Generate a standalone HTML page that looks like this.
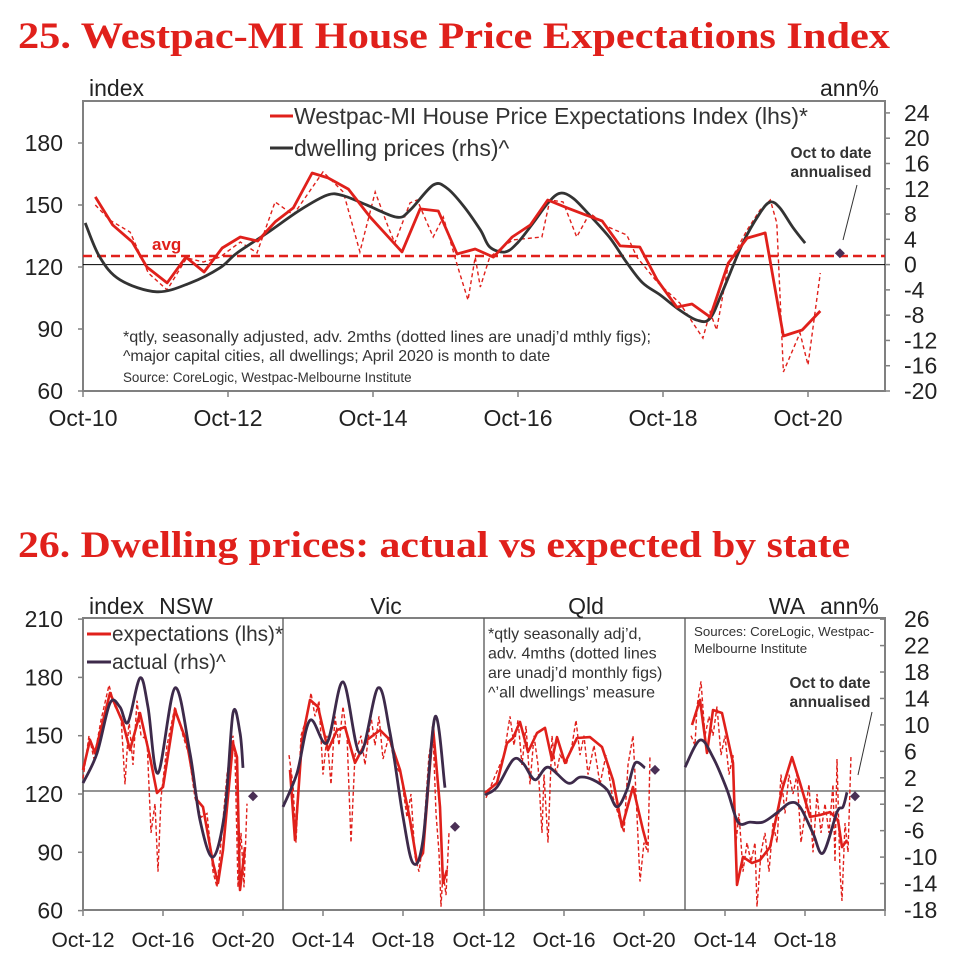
<!DOCTYPE html>
<html><head><meta charset="utf-8"><style>
html,body{margin:0;padding:0;background:#fff;}
svg{display:block;font-family:"Liberation Sans",sans-serif;}
</style></head><body>
<svg id="s" width="957" height="964" viewBox="0 0 957 964" xmlns="http://www.w3.org/2000/svg">
<text x="18" y="48" font-family="Liberation Serif,serif" font-weight="bold" font-size="37" fill="#e0201b" textLength="872" lengthAdjust="spacingAndGlyphs">25. Westpac-MI House Price Expectations Index</text>
<text x="18" y="557" font-family="Liberation Serif,serif" font-weight="bold" font-size="37" fill="#e0201b" textLength="832" lengthAdjust="spacingAndGlyphs">26. Dwelling prices: actual vs expected by state</text>
<g id="c1"></g>
<g id="c2"></g>
</svg>
<script>
// ===== Chart 25 data =====
const c1RedT=[0.17,0.41,0.68,0.88,1.16,1.42,1.67,1.92,2.17,2.41,2.65,2.90,3.16,3.38,3.66,3.96,4.40,4.65,4.90,5.16,5.41,5.66,5.92,6.17,6.41,6.68,6.90,7.16,7.41,7.68,7.92,8.19,8.40,8.65,8.90,9.16,9.41,9.66,9.92,10.17];
const c1RedV=[153.9,140.3,132.1,120,112.3,124.8,117.6,129.2,134.5,132.6,141.8,148.6,165.5,163.1,157.7,144.2,127.3,148.1,147.1,126.3,128.7,124.8,134.5,140.3,152.4,148.6,145.6,142.3,130.2,129.7,113.7,100.6,102.1,95.8,121.9,134.0,136.5,86.6,89.5,98.7];
const c1DotT=[0.17,0.37,0.65,0.90,1.16,1.43,1.66,1.89,2.17,2.40,2.65,2.90,3.31,3.59,3.82,4.03,4.21,4.30,4.51,4.61,4.83,4.97,5.17,5.31,5.41,5.48,5.61,5.79,5.93,6.33,6.44,6.62,6.81,6.99,7.24,7.50,7.64,7.92,8.23,8.55,8.65,8.74,8.90,9.16,9.34,9.48,9.57,9.66,9.89,10.00,10.17];
const c1DotV=[150.0,142.7,136.9,117.1,108.9,124.4,122.4,124.8,132.1,126.8,151.5,145.2,166.0,156.3,127.3,156.3,139.4,131.6,151.0,152.4,134.5,144.2,120.0,104.0,124.8,110.3,124.8,129.7,133.1,134.5,152.4,151.5,134.5,146.1,139.4,135.5,124.8,112.7,102.6,85.6,98.2,89.5,121.0,137.9,147.6,152.4,141.3,69.2,88.1,72.6,117.1];
const c1BlkT=[0.03,0.23,0.51,1.02,1.48,1.89,2.12,2.54,2.99,3.37,3.59,3.92,4.33,4.51,4.83,5.02,5.24,5.48,5.61,5.82,5.99,6.21,6.41,6.58,6.76,6.99,7.27,7.50,7.72,7.96,8.23,8.47,8.65,8.83,9.10,9.34,9.48,9.61,9.79,9.96];
const c1BlkV=[6.6,1.2,-2.4,-4.3,-2.9,-0.5,1.8,5.0,8.6,11.0,10.9,9.4,7.5,8.6,12.6,12.1,9.4,5.5,2.8,2.0,3.4,6.6,9.7,11.3,10.5,7.8,4.2,0.3,-2.9,-4.8,-7.2,-8.8,-8.5,-4.0,3.4,8.2,9.9,9.0,5.9,3.4];
const c1Diamond=[10.44,1.8];
const c1Avg=125.3;
const c1LeftTicks=[60,90,120,150,180];
const c1RightTicks=[-20,-16,-12,-8,-4,0,4,8,12,16,20,24];
const c1XLabels=["Oct-10","Oct-12","Oct-14","Oct-16","Oct-18","Oct-20"];

// ===== Chart 26 data =====
const panelNames=["NSW","Vic","Qld","WA"];
const nswRedT=[0,0.35,0.6,1.35,2.0,2.35,2.85,3.35,3.7,4.0,4.6,5.2,5.7,6.0,6.5,6.75,7.0,7.5,7.7,7.85,8.1];
const nswRedV=[132.4,147.8,141.1,172.0,156.5,142.6,161.7,139.0,120.5,123.6,163.2,146.2,116.9,113.3,84.5,74.2,91.2,146.2,139.0,70.6,92.7];
const nswDotT=[0,0.3,0.55,0.9,1.3,1.6,1.9,2.1,2.3,2.5,2.7,2.9,3.2,3.4,3.6,3.75,3.9,4.2,4.6,5.0,5.3,5.6,5.9,6.2,6.5,6.7,6.9,7.2,7.5,7.6,7.75,7.9,8.05,8.2];
const nswDotV=[128,150,138,158,176,165,160,125,158,135,168,150,148,100,115,80,118,145,165,150,140,118,108,110,80,72,95,130,150,140,72,100,72,115];
const nswActT=[0,0.7,1.35,1.85,2.25,2.85,3.25,3.75,4.6,5.35,5.85,6.5,7.1,7.5,7.85,8.0];
const nswActV=[1.2,5.7,13.3,12.7,10.4,17.1,12.7,2.7,15.6,5.7,-4.4,-10.0,-2.9,11.8,8.8,3.5];
const vicRedT=[0.35,0.6,0.95,1.35,1.75,2.25,2.7,3.1,3.6,4.2,4.85,5.35,5.85,6.35,6.7,7.0,7.5,7.85,8.0,8.2];
const vicRedV=[132.4,96.3,147.8,168.4,164.8,142.6,152.9,154.5,136.0,147.8,152.9,147.8,132.4,106.6,84.5,89.6,154.5,113.3,74.2,80.9];
const vicDotT=[0.3,0.5,0.65,0.9,1.2,1.4,1.6,1.8,2.0,2.2,2.4,2.6,2.8,3.0,3.2,3.4,3.6,3.9,4.1,4.4,4.6,4.8,5.0,5.3,5.6,5.9,6.2,6.4,6.6,6.8,7.0,7.3,7.5,7.65,7.8,7.9,8.0,8.15,8.3];
const vicDotV=[140,125,95,150,160,172,160,168,130,150,125,160,145,165,150,95,140,150,135,160,145,160,138,150,135,130,108,120,88,80,95,140,152,110,90,62,80,68,100];
const vicActT=[0,0.7,1.35,2.2,3.0,3.85,4.75,5.35,6.0,6.5,7.0,7.6,8.1];
const vicActV=[-2.4,2.7,10.7,7.3,16.5,5.7,15.6,8.8,-3.9,-10.9,-7.4,11.2,0.5];
const qldRedT=[0.05,0.65,1.15,1.45,1.8,2.2,2.65,3.05,3.4,3.65,4.05,4.65,5.3,5.9,6.45,6.9,7.45,7.95,8.15];
const qldRedV=[120.5,125.7,146.2,148.8,157.1,141.6,151.4,154.0,137.5,149.3,136.0,148.8,149.3,144.2,127.2,103.0,123.6,101.5,93.8];
const qldDotT=[0.1,0.5,1.0,1.3,1.5,1.7,1.9,2.1,2.3,2.5,2.7,2.9,3.0,3.2,3.4,3.6,3.8,4.1,4.4,4.6,4.8,5.0,5.2,5.5,5.8,6.1,6.4,6.7,7.0,7.2,7.45,7.6,7.8,8.0,8.2,8.3];
const qldDotV=[118,128,140,160,145,158,135,155,125,150,135,100,130,95,150,130,140,135,145,158,140,150,130,145,125,140,120,110,100,135,150,120,75,95,90,140];
const qldActT=[0.05,0.65,1.45,1.95,2.55,3.2,4.2,4.8,5.45,6.15,6.65,7.15,7.55,8.05];
const qldActV=[-0.6,0.6,4.7,4.2,1.7,3.6,1.2,2.1,1.7,0.2,-2.4,0.2,4.2,3.5];
const waRedT=[0.35,0.75,1.1,1.4,1.85,2.15,2.4,2.6,2.9,3.35,3.75,4.25,4.85,5.35,5.75,6.25,6.75,7.25,7.65,7.85,8.1];
const waRedV=[155.5,168.4,141.1,163.2,161.7,147.8,136.0,73.2,87.6,84.5,86.0,92.7,122.1,139.0,125.7,108.2,109.2,110.7,106.6,92.7,96.3];
const waDotT=[0.3,0.5,0.6,0.8,1.0,1.2,1.4,1.6,1.8,2.0,2.2,2.4,2.55,2.7,2.9,3.1,3.3,3.5,3.6,3.8,4.0,4.2,4.4,4.6,4.8,5.0,5.2,5.4,5.6,5.8,6.0,6.2,6.4,6.6,6.8,7.0,7.2,7.4,7.5,7.6,7.75,7.85,8.0,8.15,8.3];
const waDotV=[150,145,165,178,150,160,150,165,140,150,130,140,95,110,80,95,85,95,62,90,100,80,105,95,130,110,130,120,130,95,110,125,90,120,100,115,100,125,85,138,80,65,105,90,140];
const waActT=[0,0.75,1.4,2.1,2.65,3.25,3.9,4.6,5.25,5.75,6.4,6.9,7.6,7.9,8.1];
const waActV=[3.6,7.7,5.1,0.2,-4.7,-4.7,-4.7,-3.3,-1.8,-2.4,-6.4,-9.4,-3.2,-2.4,-0.2];
const diamondT=[8.5,8.6,8.55,8.5];
const diamondV=[-0.8,-5.4,3.2,-0.8];
const c2LeftTicks=[60,90,120,150,180,210];
const c2RightTicks=[-18,-14,-10,-6,-2,2,6,10,14,18,22,26];
const c2XLabels=[["Oct-12","Oct-16","Oct-20"],["Oct-14","Oct-18"],["Oct-12","Oct-16","Oct-20"],["Oct-14","Oct-18"]];
const c2XLabelT=[[0,4,8],[2,6],[0,4,8],[2,6]];

const NS="http://www.w3.org/2000/svg";
const RED="#e0201b", GREY="#808080", TXT="#222";
function mk(parent,tag,attrs,text){const e=document.createElementNS(NS,tag);for(const k in attrs)e.setAttribute(k,attrs[k]);if(text!==undefined)e.textContent=text;parent.appendChild(e);return e;}
function pts(ts,vs,fx,fy){return ts.map((t,i)=>fx(t).toFixed(1)+","+fy(vs[i]).toFixed(1)).join(" ");}
function smooth(ts,vs,fx,fy){
 const P=ts.map((t,i)=>[fx(t),fy(vs[i])]);
 let d="M"+P[0][0].toFixed(1)+","+P[0][1].toFixed(1);
 for(let i=0;i<P.length-1;i++){
  const p0=P[Math.max(0,i-1)],p1=P[i],p2=P[i+1],p3=P[Math.min(P.length-1,i+2)];
  const c1=[p1[0]+(p2[0]-p0[0])/6,p1[1]+(p2[1]-p0[1])/6];
  const c2=[p2[0]-(p3[0]-p1[0])/6,p2[1]-(p3[1]-p1[1])/6];
  d+="C"+c1[0].toFixed(1)+","+c1[1].toFixed(1)+" "+c2[0].toFixed(1)+","+c2[1].toFixed(1)+" "+p2[0].toFixed(1)+","+p2[1].toFixed(1);
 }
 return d;
}
const TF=23;

// ===== Chart 25 =====
(function(){
const g=document.getElementById('c1');
const L=83,R=885,T=101,B=391;
const x=t=>L+t*72.5;
const yL=v=>267-(v-120)*62/30;
const yR=v=>264.6-v*6.32;
let e;
e=mk(g,'rect',{x:L,y:T,width:R-L,height:B-T,fill:'none',stroke:GREY,'stroke-width':2});


c1LeftTicks.forEach(v=>{
 mk(g,'line',{x1:L-5,x2:L,y1:yL(v),y2:yL(v),stroke:GREY,'stroke-width':1.5});
 e=mk(g,'text',{x:63,y:yL(v)+8,'text-anchor':'end','font-size':TF,fill:TXT},v);
 
 
});
c1RightTicks.forEach(v=>{
 mk(g,'line',{x1:R,x2:R+5,y1:yR(v),y2:yR(v),stroke:GREY,'stroke-width':1.5});
 e=mk(g,'text',{x:904,y:yR(v)+8,'font-size':TF,fill:TXT},v);
 
 
});
c1XLabels.forEach((s,i)=>{
 const xx=x(i*2);
 mk(g,'line',{x1:xx,x2:xx,y1:B,y2:B+6,stroke:GREY,'stroke-width':1.5});
 e=mk(g,'text',{x:xx,y:426,'text-anchor':'middle','font-size':TF,fill:TXT},s);
 
 
});
e=mk(g,'text',{x:89,y:96,'font-size':TF,fill:TXT},'index');


e=mk(g,'text',{x:820,y:96,'font-size':TF,fill:TXT},'ann%');


e=mk(g,'line',{x1:L,x2:R,y1:yR(0),y2:yR(0),stroke:'#000','stroke-width':1});


e=mk(g,'line',{x1:L,x2:R,y1:yL(c1Avg),y2:yL(c1Avg),stroke:RED,'stroke-width':2.5,'stroke-dasharray':'9,5'});


e=mk(g,'text',{x:152,y:250,'font-size':17,'font-weight':'bold',fill:RED},'avg');


e=mk(g,'polyline',{points:pts(c1DotT,c1DotV,x,yL),fill:'none',stroke:RED,'stroke-width':1.4,'stroke-dasharray':'4,3'});


e=mk(g,'path',{d:smooth(c1BlkT,c1BlkV,x,yR),fill:'none',stroke:'#333','stroke-width':2.8,'stroke-linejoin':'round'});


e=mk(g,'polyline',{points:pts(c1RedT,c1RedV,x,yL),fill:'none',stroke:RED,'stroke-width':2.8,'stroke-linejoin':'round'});


const dx=x(c1Diamond[0]),dy=yR(c1Diamond[1]);
e=mk(g,'path',{d:`M${dx},${dy-5}L${dx+5},${dy}L${dx},${dy+5}L${dx-5},${dy}Z`,fill:'#4a2f55'});


mk(g,'line',{x1:857,y1:185,x2:843,y2:240,stroke:'#333','stroke-width':1});
e=mk(g,'text',{x:831,y:158,'text-anchor':'middle','font-size':15.5,'font-weight':'bold',fill:'#333'},'Oct to date');


mk(g,'text',{x:831,y:177,'text-anchor':'middle','font-size':15.5,'font-weight':'bold',fill:'#333'},'annualised');
mk(g,'line',{x1:270,x2:293,y1:116,y2:116,stroke:RED,'stroke-width':3});
e=mk(g,'text',{x:294,y:124,'font-size':23,fill:'#333',textLength:514,lengthAdjust:'spacingAndGlyphs'},'Westpac-MI House Price Expectations Index (lhs)*');


mk(g,'line',{x1:270,x2:293,y1:148,y2:148,stroke:'#333','stroke-width':3});
e=mk(g,'text',{x:294,y:156,'font-size':23,fill:'#333'},'dwelling prices (rhs)^');


e=mk(g,'text',{x:123,y:342,'font-size':15.8,fill:'#333',textLength:528,lengthAdjust:'spacingAndGlyphs'},'*qtly, seasonally adjusted, adv. 2mths (dotted lines are unadj\u2019d mthly figs);');


mk(g,'text',{x:123,y:361,'font-size':15.8,fill:'#333'},'^major capital cities, all dwellings; April 2020 is month to date');
e=mk(g,'text',{x:123,y:382,'font-size':13.4,fill:'#333'},'Source: CoreLogic, Westpac-Melbourne Institute');


})();

// ===== Chart 26 =====
(function(){
const g=document.getElementById('c2');
const L=83,R=885,T=618,B=910;
const starts=[83,283,484,685];
const yL=v=>794-(v-120)*58.3/30;
const yR=v=>791-v*6.61;
const PUR="#3d2a4a";
let e;
e=mk(g,'rect',{x:L,y:T,width:R-L,height:B-T,fill:'none',stroke:GREY,'stroke-width':2});


[283,484,685].forEach(xx=>{
 e=mk(g,'line',{x1:xx,x2:xx,y1:T,y2:B,stroke:'#555','stroke-width':1.3});
 
 
});
c2LeftTicks.forEach(v=>{
 mk(g,'line',{x1:L-5,x2:L,y1:yL(v),y2:yL(v),stroke:GREY,'stroke-width':1.5});
 e=mk(g,'text',{x:63,y:yL(v)+8,'text-anchor':'end','font-size':TF,fill:TXT},v);
 
 
});
c2RightTicks.forEach(v=>{
 mk(g,'line',{x1:R-5,x2:R,y1:yR(v),y2:yR(v),stroke:GREY,'stroke-width':1.5});
 e=mk(g,'text',{x:904,y:yR(v)+8,'font-size':TF,fill:TXT},v);
 
 
});
e=mk(g,'line',{x1:L,x2:R,y1:yR(0),y2:yR(0),stroke:'#555','stroke-width':1.3});


c2XLabels.forEach((arr,p)=>{
 arr.forEach((s,i)=>{
  const xx=starts[p]+c2XLabelT[p][i]*20;
  mk(g,'line',{x1:xx,x2:xx,y1:B,y2:B+6,stroke:GREY,'stroke-width':1.5});
  e=mk(g,'text',{x:xx,y:947,'text-anchor':'middle','font-size':21,fill:TXT},s);
  
  
 });
});
mk(g,'line',{x1:885,x2:885,y1:B,y2:B+6,stroke:GREY,'stroke-width':1.5});
const reds=[[nswRedT,nswRedV],[vicRedT,vicRedV],[qldRedT,qldRedV],[waRedT,waRedV]];
const dots=[[nswDotT,nswDotV],[vicDotT,vicDotV],[qldDotT,qldDotV],[waDotT,waDotV]];
const acts=[[nswActT,nswActV],[vicActT,vicActV],[qldActT,qldActV],[waActT,waActV]];
for(let p=0;p<4;p++){
 const x=t=>starts[p]+t*20;
 e=mk(g,'polyline',{points:pts(dots[p][0],dots[p][1],x,yL),fill:'none',stroke:RED,'stroke-width':1.4,'stroke-dasharray':'4,2.5'});
 
 
 e=mk(g,'polyline',{points:pts(reds[p][0],reds[p][1],x,yL),fill:'none',stroke:RED,'stroke-width':2.6,'stroke-linejoin':'round'});
 
 
 e=mk(g,'path',{d:smooth(acts[p][0],acts[p][1],x,yR),fill:'none',stroke:PUR,'stroke-width':2.8,'stroke-linejoin':'round'});
 
 
 const dx=x(diamondT[p]),dy=yR(diamondV[p]);
 e=mk(g,'path',{d:`M${dx},${dy-5}L${dx+5},${dy}L${dx},${dy+5}L${dx-5},${dy}Z`,fill:'#4a2f55'});
 
 
}
e=mk(g,'text',{x:89,y:614,'font-size':TF,fill:TXT},'index');


const ptX=[186,386,586,787];
ptX.forEach((xx,p)=>{
 e=mk(g,'text',{x:xx,y:614,'text-anchor':'middle','font-size':TF,fill:TXT},panelNames[p]);
 
 
});
e=mk(g,'text',{x:820,y:614,'font-size':TF,fill:TXT},'ann%');


mk(g,'line',{x1:87,x2:111,y1:634,y2:634,stroke:RED,'stroke-width':3});
e=mk(g,'text',{x:112,y:641,'font-size':20.8,fill:'#333'},'expectations (lhs)*');


mk(g,'line',{x1:87,x2:111,y1:662,y2:662,stroke:PUR,'stroke-width':3});
e=mk(g,'text',{x:112,y:669,'font-size':20.8,fill:'#333'},'actual (rhs)^');


const notes=["*qtly seasonally adj\u2019d,","adv. 4mths (dotted lines","are unadj\u2019d monthly figs)","^\u2019all dwellings\u2019 measure"];
notes.forEach((s,i)=>{
 e=mk(g,'text',{x:488,y:639+i*19.5,'font-size':16,fill:'#333'},s);
 
 
});
e=mk(g,'text',{x:694,y:636,'font-size':13.3,fill:'#333'},'Sources: CoreLogic, Westpac-');


mk(g,'text',{x:694,y:653,'font-size':13.3,fill:'#333'},'Melbourne Institute');
e=mk(g,'text',{x:830,y:688,'text-anchor':'middle','font-size':15.5,'font-weight':'bold',fill:'#333'},'Oct to date');


mk(g,'text',{x:830,y:707,'text-anchor':'middle','font-size':15.5,'font-weight':'bold',fill:'#333'},'annualised');
mk(g,'line',{x1:872,y1:712,x2:858,y2:775,stroke:'#333','stroke-width':1});
})();
</script>
</body></html>
